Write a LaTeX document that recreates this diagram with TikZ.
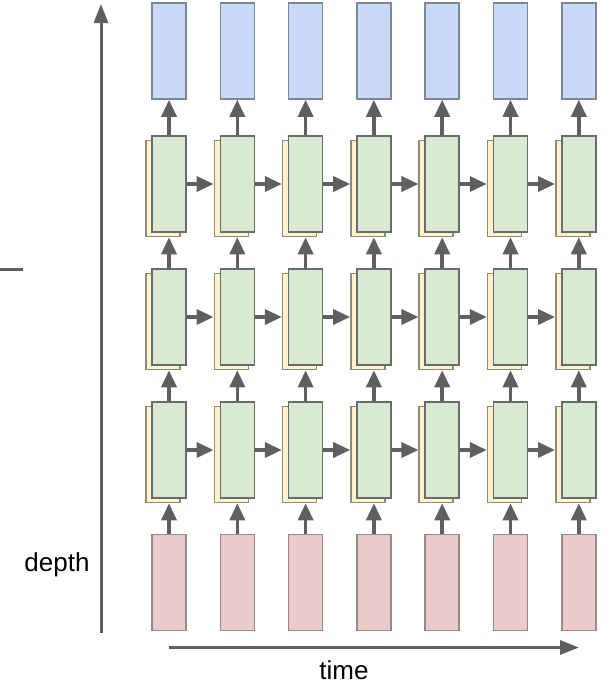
\documentclass[tikz,border=0pt]{standalone}
\usepackage{fontspec}
\setmainfont{Liberation Sans}
\usetikzlibrary{positioning,arrows.meta}
\definecolor{outfill}{HTML}{C9DAF8}
\definecolor{outline}{HTML}{7E8593}
\definecolor{cellfill}{HTML}{D9EAD3}
\definecolor{backfill}{HTML}{FFF2CC}
\definecolor{cellline}{HTML}{6B6B6B}
\definecolor{backline}{HTML}{8C8C7A}
\definecolor{infill}{HTML}{EACACB}
\definecolor{inline}{HTML}{958A8B}
\definecolor{arrowgray}{HTML}{5F5F5F}

\begin{document}
\begin{tikzpicture}[x=1pt, y=-1pt, font=\fontsize{26}{30}\selectfont,
    box/.style={draw, line width=1.5pt, minimum width=34pt, minimum height=96pt, inner sep=0pt},
    outbox/.style={box, draw=outline, fill=outfill},
    inbox/.style={box, draw=inline, fill=infill},
    cellbox/.style={box, draw=cellline, fill=cellfill},
    backbox/.style={box, draw=backline, fill=backfill},
    link/.style={-{Triangle[length=17pt,width=15pt]}, line width=3.5pt, draw=arrowgray},
    axis/.style={-{Triangle[length=19pt,width=14pt]}, line width=3pt, draw=arrowgray}]
    \useasboundingbox (0,0) rectangle (616,686);

    % boxes, one column per time step
    \foreach \i in {0,...,6} {
        \pgfmathsetmacro\cx{169+68.3*\i}
        \node[outbox] (out\i) at (\cx,51) {};
        \node[inbox] (in\i) at (\cx,582.5) {};
        \foreach \j/\cy in {1/184,2/317,3/450} {
            \node[backbox] (back\j-\i) at (\cx-6,\cy+4.5) {};
            \node[cellbox] (cell\j-\i) at (\cx,\cy) {};
        }
    }

    % upward links
    \foreach \i in {0,...,6} {
        \draw[link] (in\i.north) -- (in\i.north |- back3-\i.south);
        \draw[link] (cell3-\i.north) -- (cell3-\i.north |- back2-\i.south);
        \draw[link] (cell2-\i.north) -- (cell2-\i.north |- back1-\i.south);
        \draw[link] (cell1-\i.north) -- (out\i.south);
    }

    % links along time
    \foreach \i [count=\k] in {0,...,5}
        \foreach \j in {1,2,3}
            \draw[link] (cell\j-\i.east) -- (cell\j-\i.east -| back\j-\k.west);

    % axes
    \coordinate (dbot) at (101,633);
    \coordinate (dtop) at (101,4);
    \coordinate (tleft) at (169,647.5);
    \coordinate (tright) at (579,647.5);
    \draw[axis] (dbot) -- (dtop);
    \draw[axis] (tleft) -- (tright);
    \node (depth) at (57,565) {depth};
    \node (time) at (344,670) {time};
    \draw[line width=3pt, draw=arrowgray] (0,269) -- (23,269);
\end{tikzpicture}
\end{document}
